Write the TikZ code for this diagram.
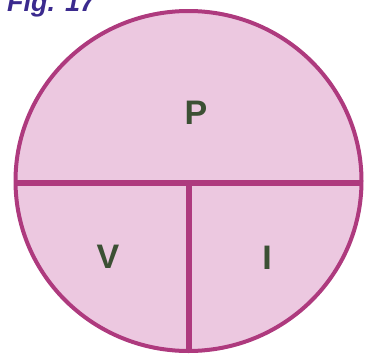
\documentclass[tikz,border=0pt]{standalone}
\usepackage{fontspec}
\setmainfont{Liberation Sans}
\usetikzlibrary{positioning}
\definecolor{rim}{HTML}{AE3A7E}
\definecolor{pinkfill}{HTML}{ECC8E0}
\definecolor{figblue}{HTML}{3B2A8E}
\definecolor{lettergreen}{HTML}{3C5034}

\begin{document}
\begin{tikzpicture}[x=1pt,y=-1pt,
  letter/.style={font=\fontsize{34}{34}\selectfont\bfseries,text=lettergreen,inner sep=0pt},
  divider/.style={draw=rim,line width=6pt},
  caption/.style={font=\fontsize{27}{27}\selectfont\bfseries\itshape,text=figblue,inner sep=0pt}]
\useasboundingbox (0,0) rectangle (369,359);
\fill[pinkfill] (188.5,181) ellipse (173 and 170);
\coordinate (west) at (15,183);
\coordinate (east) at (362,183);
\coordinate (mid) at (189,183);
\coordinate (south) at (189,351);
\draw[divider] (west) -- (east);
\draw[divider] (mid) -- (south);
\draw[draw=rim,line width=4pt] (188.5,181) ellipse (173 and 170);
\node[letter] (power) at (196,113) {P};
\node[letter] (volt) at (108,257) {V};
\node[letter] (amp) at (267,258) {I};
\node[caption,anchor=base west] (fig) at (7,11) {Fig. 17};
\end{tikzpicture}
\end{document}
